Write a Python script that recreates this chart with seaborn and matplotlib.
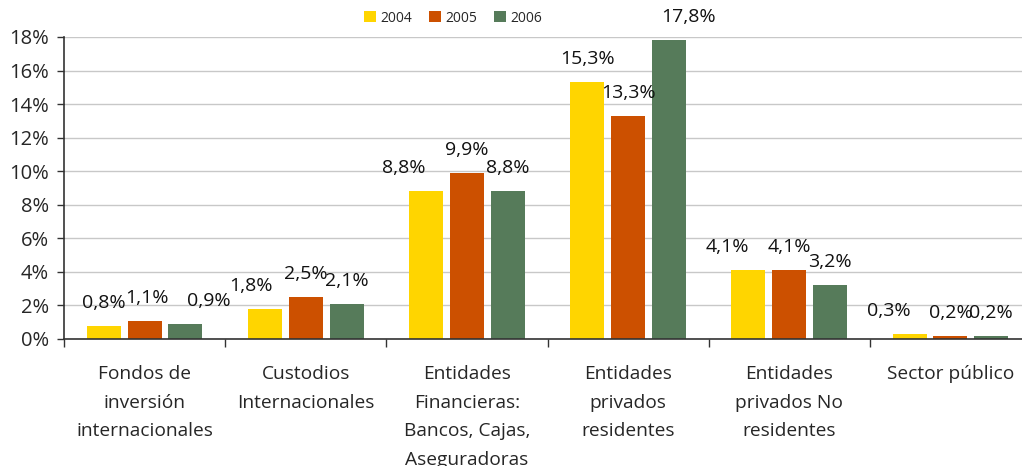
import pandas as pd
import seaborn as sns
import matplotlib.pyplot as plt
from matplotlib.ticker import FixedLocator

categories = ["Fondos de\ninversión\ninternacionales", "Custodios\nInternacionales",
              "Entidades\nFinancieras:\nBancos, Cajas,\nAseguradoras", "Entidades\nprivados\nresidentes",
              "Entidades\nprivados No\nresidentes", "Sector público"]
years = ["2004", "2005", "2006"]
v2004 = [0.8, 1.8, 8.8, 15.3, 4.1, 0.3]
v2005 = [1.1, 2.5, 9.9, 13.3, 4.1, 0.2]
v2006 = [0.9, 2.1, 8.8, 17.8, 3.2, 0.2]
yticks = [0, 2, 4, 6, 8, 10, 12, 14, 16, 18]

# label nudges in pixels (the original labels shift sideways to avoid overlaps)
nudge = {"2004": [0, -14, -22, 0, -21, -21],
         "2005": [2, 0, 0, 0, 0, 0],
         "2006": [23, 0, 0, 20, 0, 0]}

rows = []
for y, vals in zip(years, [v2004, v2005, v2006]):
    for c, v in zip(categories, vals):
        rows.append({"cat": c, "year": y, "val": v})
df = pd.DataFrame(rows)

sns.set_style("white")
plt.rcParams['font.family'] = ['Open Sans', 'DejaVu Sans']
colors = ["#FFD500", "#CC5000", "#567B5A"]

fig = plt.figure(figsize=(10.22, 4.66), dpi=100)
ax = fig.add_axes([64/1022, 1-339/466, 967/1022, 302/466])
sns.barplot(data=df, x="cat", y="val", hue="year", palette=colors, width=0.76, gap=0.17,
            saturation=1, ax=ax, edgecolor="none")

ax.set_ylim(0, 18)
ax.set_xlim(-0.5, 5.5)
ax.set_yticks(yticks)
ax.set_yticklabels([f"{t}%" for t in yticks], fontsize=14.5)
ax.yaxis.grid(True, color="#c8c8c8", linewidth=1)
ax.set_axisbelow(True)
ax.set_xlabel("")
ax.set_ylabel("")
ax.tick_params(axis="x", length=0, pad=19, labelsize=13.8)
ax.tick_params(axis="y", length=5, width=1, color="#333333", left=True, pad=6)
for lab in ax.get_xticklabels():
    lab.set_linespacing(1.75)
    lab.set_verticalalignment("top")
ax.xaxis.set_minor_locator(FixedLocator([i + 0.5 for i in range(-1, 6)]))
ax.tick_params(axis="x", which="minor", length=6, width=1, color="#333333", bottom=True)
for s in ["top", "right"]:
    ax.spines[s].set_visible(False)
for s in ["left", "bottom"]:
    ax.spines[s].set_color("#333333")
    ax.spines[s].set_linewidth(1.2)

for cont, y in zip(ax.containers, years):
    for i, bar in enumerate(cont):
        h = bar.get_height()
        ax.annotate(f"{h:.1f}%".replace(".", ","),
                    (bar.get_x() + bar.get_width()/2, h),
                    xytext=(nudge[y][i], 23), textcoords="offset pixels",
                    ha="center", va="center", fontsize=14, color="#111111")

ax.legend(loc="center", bbox_to_anchor=(453/1022, 1-18/466), bbox_transform=fig.transFigure,
          ncol=3, frameon=False, fontsize=10, handlelength=0.9, handleheight=0.9,
          handletextpad=0.3, columnspacing=1.2)

fig.savefig("out.png", dpi=100)
